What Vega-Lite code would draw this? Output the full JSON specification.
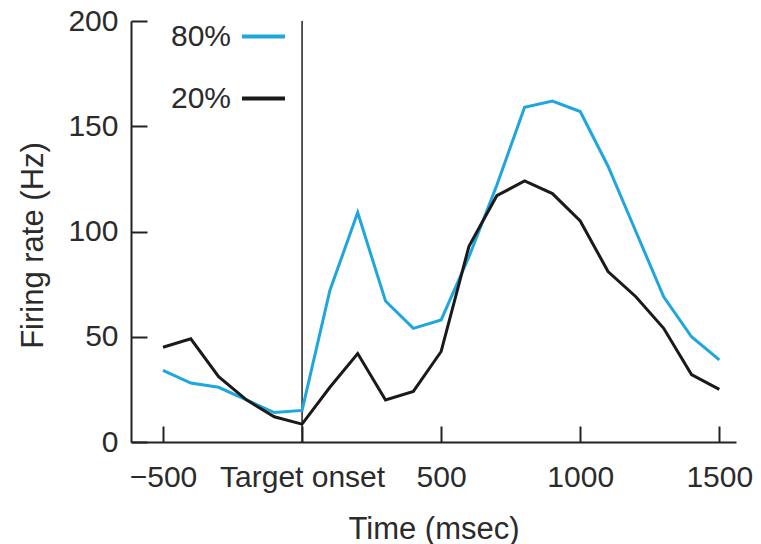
{
  "$schema": "https://vega.github.io/schema/vega-lite/v6.json",
  "width": 605,
  "height": 421,
  "autosize": "none",
  "padding": {"left": 131, "top": 21, "right": 25, "bottom": 102},
  "config": {
    "view": {"stroke": null},
    "font": "Liberation Sans",
    "axis": {
      "grid": false,
      "domainColor": "#222222",
      "domainWidth": 2,
      "tickColor": "#222222",
      "tickWidth": 2,
      "tickSize": -16,
      "labelFontSize": 30,
      "labelColor": "#2b2b2b",
      "titleFontSize": 31,
      "titleFontWeight": "normal",
      "titleColor": "#2b2b2b",
      "labelFlush": false,
      "labelOverlap": false
    }
  },
  "datasets": {
    "rates": [
      {"t": -500, "cond": "80%", "rate": 34},
      {"t": -400, "cond": "80%", "rate": 28},
      {"t": -300, "cond": "80%", "rate": 26},
      {"t": -200, "cond": "80%", "rate": 20},
      {"t": -100, "cond": "80%", "rate": 14},
      {"t": 0, "cond": "80%", "rate": 15},
      {"t": 100, "cond": "80%", "rate": 72},
      {"t": 200, "cond": "80%", "rate": 109},
      {"t": 300, "cond": "80%", "rate": 67},
      {"t": 400, "cond": "80%", "rate": 54},
      {"t": 500, "cond": "80%", "rate": 58},
      {"t": 600, "cond": "80%", "rate": 88},
      {"t": 700, "cond": "80%", "rate": 122},
      {"t": 800, "cond": "80%", "rate": 159},
      {"t": 900, "cond": "80%", "rate": 162},
      {"t": 1000, "cond": "80%", "rate": 157},
      {"t": 1100, "cond": "80%", "rate": 131},
      {"t": 1200, "cond": "80%", "rate": 100},
      {"t": 1300, "cond": "80%", "rate": 69},
      {"t": 1400, "cond": "80%", "rate": 50},
      {"t": 1500, "cond": "80%", "rate": 39},
      {"t": -500, "cond": "20%", "rate": 45},
      {"t": -400, "cond": "20%", "rate": 49},
      {"t": -300, "cond": "20%", "rate": 31},
      {"t": -200, "cond": "20%", "rate": 20},
      {"t": -100, "cond": "20%", "rate": 12},
      {"t": 0, "cond": "20%", "rate": 8.5},
      {"t": 100, "cond": "20%", "rate": 26},
      {"t": 200, "cond": "20%", "rate": 42},
      {"t": 300, "cond": "20%", "rate": 20},
      {"t": 400, "cond": "20%", "rate": 24},
      {"t": 500, "cond": "20%", "rate": 43},
      {"t": 600, "cond": "20%", "rate": 93},
      {"t": 700, "cond": "20%", "rate": 117},
      {"t": 800, "cond": "20%", "rate": 124},
      {"t": 900, "cond": "20%", "rate": 118},
      {"t": 1000, "cond": "20%", "rate": 105},
      {"t": 1100, "cond": "20%", "rate": 81},
      {"t": 1200, "cond": "20%", "rate": 69},
      {"t": 1300, "cond": "20%", "rate": 54},
      {"t": 1400, "cond": "20%", "rate": 32},
      {"t": 1500, "cond": "20%", "rate": 25}
    ],
    "onset": [{"t": 0}]
  },
  "layer": [
    {
      "data": {"name": "onset"},
      "mark": {"type": "rule", "color": "#222222", "strokeWidth": 1.5},
      "encoding": {
        "x": {"field": "t", "type": "quantitative", "scale": {"domain": [-615, 1560], "nice": false, "zero": false}}
      }
    },
    {
      "data": {"name": "rates"},
      "mark": {"type": "line", "strokeWidth": 3, "strokeJoin": "miter"},
      "encoding": {
        "x": {
          "field": "t",
          "type": "quantitative",
          "scale": {"domain": [-615, 1560], "nice": false, "zero": false},
          "axis": {
            "title": "Time (msec)",
            "values": [-500, 0, 500, 1000, 1500],
            "format": "d",
            "labelExpr": "datum.value == 0 ? 'Target onset' : datum.label",
            "labelPadding": 36,
            "titlePadding": 22
          }
        },
        "y": {
          "field": "rate",
          "type": "quantitative",
          "scale": {"domain": [0, 200], "nice": false},
          "axis": {
            "title": "Firing rate (Hz)",
            "values": [0, 50, 100, 150, 200],
            "labelPadding": 29,
            "titlePadding": 18,
            "titleY": 224
          }
        },
        "color": {
          "field": "cond",
          "type": "nominal",
          "scale": {"domain": ["80%", "20%"], "range": ["#1ea6dd", "#1a1a1a"]},
          "legend": {
            "title": null,
            "orient": "none",
            "legendX": 37,
            "legendY": -8,
            "symbolType": "stroke",
            "symbolSize": 1849,
            "symbolStrokeWidth": 4,
            "symbolOffset": 72,
            "labelAlign": "right",
            "labelOffset": -56,
            "labelFontSize": 30,
            "labelColor": "#2b2b2b",
            "rowPadding": 23
          }
        }
      }
    }
  ]
}
